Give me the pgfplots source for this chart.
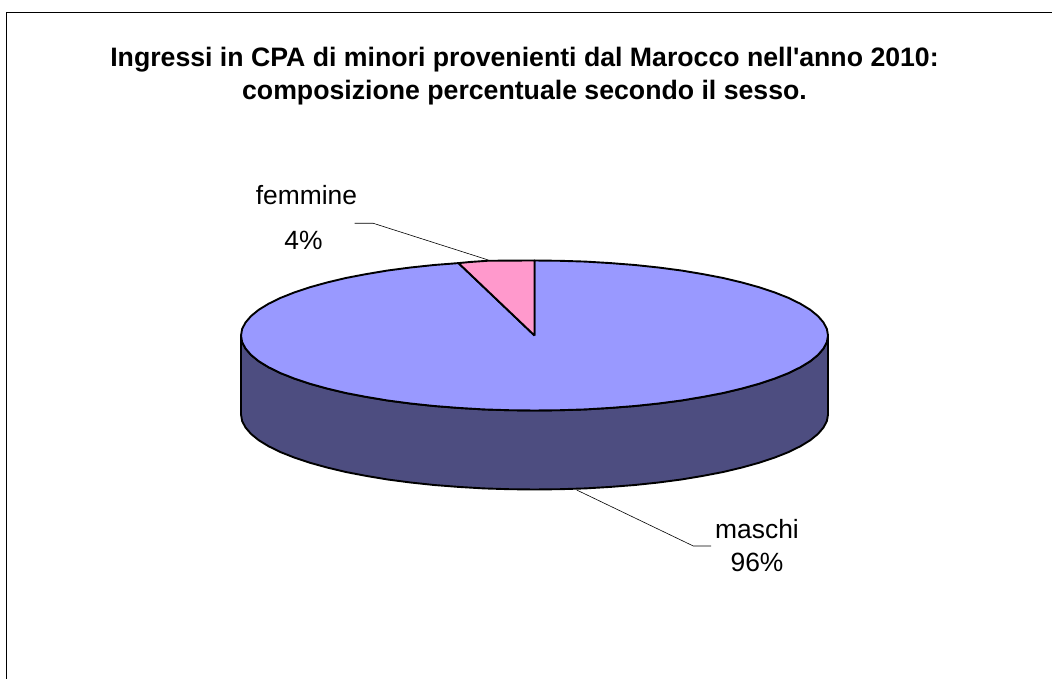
\documentclass[border=0pt]{standalone}
\usepackage{fontspec}
\setmainfont{Liberation Sans}[Ligatures=TeXOff]
\usepackage{pgfplots}
\pgfplotsset{compat=1.18}
\definecolor{maschitop}{HTML}{9999FF}
\definecolor{maschiside}{HTML}{4D4D80}
\definecolor{femminetop}{HTML}{FF99CC}
\begin{document}
\begin{tikzpicture}
\begin{axis}[
  scale only axis, width=1052pt, height=679pt,
  xmin=0, xmax=1052, ymin=0, ymax=679, y dir=reverse,
  hide axis, clip=false, line join=round,
  every axis plot/.append style={no markers}
]
\path[use as bounding box] (axis cs:0,0) rectangle (axis cs:1052,679);
% frame
\addplot[black, line width=1.7pt] coordinates {(6.5,679) (6.5,12.5) (1052,12.5)};
% side of the pie
\addplot[fill=maschiside, draw=black, line width=1.9pt] coordinates {
(828.0,335.5) (826.9,342.0) (823.5,348.5) (818.0,354.9) (810.3,361.2) (800.5,367.2) (788.7,373.0) (774.9,378.5) (759.3,383.7) (742.0,388.5) (723.2,393.0) (702.8,396.9) (681.3,400.5) (658.5,403.5) (634.9,406.0) (610.5,407.9) (585.5,409.4) (560.1,410.2) (534.5,410.5)
(508.9,410.2) (483.5,409.4) (458.5,407.9) (434.1,406.0) (410.5,403.5) (387.7,400.5) (366.2,396.9) (345.8,393.0) (327.0,388.5) (309.7,383.7) (294.1,378.5) (280.3,373.0) (268.5,367.2) (258.7,361.2) (251.0,354.9) (245.5,348.5) (242.1,342.0) (241.0,335.5)
(241.0,414.5) (242.1,421.0) (245.5,427.5) (251.0,433.9) (258.7,440.2) (268.5,446.2) (280.3,452.0) (294.1,457.5) (309.7,462.7) (327.0,467.5) (345.8,472.0) (366.2,475.9) (387.7,479.5) (410.5,482.5) (434.1,485.0) (458.5,486.9) (483.5,488.4) (508.9,489.2) (534.5,489.5)
(560.1,489.2) (585.5,488.4) (610.5,486.9) (634.9,485.0) (658.5,482.5) (681.3,479.5) (702.8,475.9) (723.2,472.0) (742.0,467.5) (759.3,462.7) (774.9,457.5) (788.7,452.0) (800.5,446.2) (810.3,440.2) (818.0,433.9) (823.5,427.5) (826.9,421.0) (828.0,414.5) (828.0,335.5)
};
% top: maschi 96%
\addplot[fill=maschitop, draw=black, line width=1.9pt] coordinates {
(534.5,335.5) (534.5,260.5) (560.1,260.8) (585.5,261.6) (610.5,263.1) (634.9,265.0) (658.5,267.5) (681.3,270.5) (702.8,274.1) (723.2,278.0) (742.0,282.5) (759.3,287.3) (774.9,292.5) (788.7,298.0) (800.5,303.8) (810.3,309.8) (818.0,316.1) (823.5,322.5) (826.9,329.0) (828.0,335.5)
(826.9,342.0) (823.5,348.5) (818.0,354.9) (810.3,361.2) (800.5,367.2) (788.7,373.0) (774.9,378.5) (759.3,383.7) (742.0,388.5) (723.2,393.0) (702.8,396.9) (681.3,400.5) (658.5,403.5) (634.9,406.0) (610.5,407.9) (585.5,409.4) (560.1,410.2) (534.5,410.5)
(508.9,410.2) (483.5,409.4) (458.5,407.9) (434.1,406.0) (410.5,403.5) (387.7,400.5) (366.2,396.9) (345.8,393.0) (327.0,388.5) (309.7,383.7) (294.1,378.5) (280.3,373.0) (268.5,367.2) (258.7,361.2) (251.0,354.9) (245.5,348.5) (242.1,342.0) (241.0,335.5)
(242.1,329.0) (245.5,322.5) (251.0,316.1) (258.7,309.8) (268.5,303.8) (280.3,298.0) (294.1,292.5) (309.7,287.3) (327.0,282.5) (345.8,278.0) (366.2,274.1) (387.7,270.5) (410.5,267.5) (434.1,265.0) (458.5,263.1) (534.5,335.5)
};
% top: femmine 4%
\addplot[fill=femminetop, draw=black, line width=1.9pt] coordinates {
(534.5,335.5) (534.5,260.5) (508.9,260.6) (487.0,260.8) (470.0,262.0) (458.5,263.1) (534.5,335.5)
};
% leader lines
\addplot[black, line width=0.6pt] coordinates {(354.5,223.3) (373.3,223.3) (488.3,260)};
\addplot[black, line width=0.6pt] coordinates {(576.7,490) (693.3,546) (711,546)};
% text
\node[anchor=base, align=center, font=\fontsize{26.67}{33}\selectfont\bfseries] at (axis cs:524.5,100)
  {Ingressi in CPA di minori provenienti dal Marocco nell'anno 2010:\\composizione percentuale secondo il sesso.};
\node[anchor=base, font=\fontsize{26.4}{30}\selectfont] at (axis cs:306.5,205) {femmine};
\node[anchor=base, font=\fontsize{26.4}{30}\selectfont] at (axis cs:303.5,249) {4\%};
\node[anchor=base, font=\fontsize{26.4}{30}\selectfont] at (axis cs:757,538) {maschi};
\node[anchor=base, font=\fontsize{26.4}{30}\selectfont] at (axis cs:757,571) {96\%};
\end{axis}
\end{tikzpicture}
\end{document}
